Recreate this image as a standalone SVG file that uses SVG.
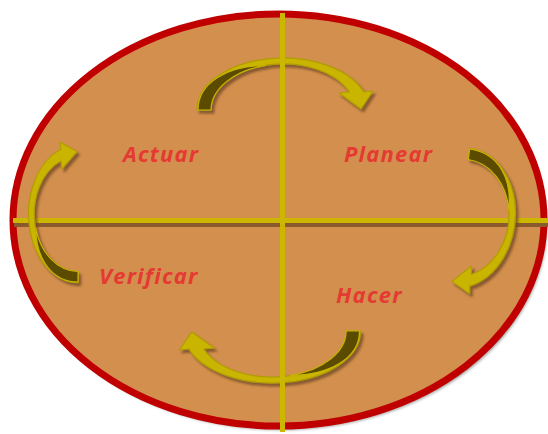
<svg xmlns="http://www.w3.org/2000/svg" xmlns:xlink="http://www.w3.org/1999/xlink" width="548" height="434" viewBox="0 0 548 434">
  <style>
    .body { fill: #C9B400; stroke: #B09C00; stroke-width: 1.2; stroke-linejoin: round; }
    .dark { fill: #5A4C00; stroke: #C9B400; stroke-width: 1.2; stroke-linejoin: round; }
    .label { font-family: "Open Sans", "DejaVu Sans", sans-serif; font-weight: bold; font-style: italic; font-size: 22px; fill: #E53A33; letter-spacing: 1.2px; }
    .axis { stroke: #CDB600; stroke-width: 5; }
    .axis-shadow { stroke: #8A5A2E; stroke-width: 4; }
  </style>
  <defs>
    <filter id="sh" x="-20%" y="-20%" width="140%" height="140%">
      <feDropShadow dx="2.5" dy="3" stdDeviation="1" flood-color="#6B4220" flood-opacity="0.7"/>
    </filter>
    <filter id="esh" x="-5%" y="-5%" width="110%" height="110%">
      <feGaussianBlur stdDeviation="1.5"/>
    </filter>
    <path id="arrowBody" d="M -86 0 A 86 52 0 0 1 80.7 -18 L 90 -19 L 78 -1 L 56 -17 L 66.3 -18 A 72 46 0 0 0 -72 0 Z"/>
    <path id="arrowDark" d="M -85 0 C -85 -28 -55 -44 -18 -44.5 A 72 46 0 0 0 -72 0 Z"/>
  </defs>

  <g id="cycle-ellipse">
    <ellipse cx="281" cy="224" rx="266" ry="206" fill="#9E9E9E" filter="url(#esh)"/>
    <ellipse cx="278.5" cy="220" rx="265.5" ry="206" fill="#D38F4D" stroke="#C00000" stroke-width="7"/>
  </g>

  <g id="axis-horizontal">
    <line class="axis-shadow" x1="14" y1="225" x2="548" y2="225"/>
    <line class="axis" x1="13" y1="220.5" x2="548" y2="220.5"/>
  </g>

  <g id="connectors">
    <g id="arrow-top" filter="url(#sh)">
      <g transform="translate(283,110)">
        <use xlink:href="#arrowBody" class="body"/>
        <use xlink:href="#arrowDark" class="dark"/>
      </g>
    </g>
    <g id="arrow-right" filter="url(#sh)">
      <g transform="translate(460,218) rotate(98) scale(0.82,1.06)">
        <use xlink:href="#arrowBody" class="body"/>
        <use xlink:href="#arrowDark" class="dark"/>
      </g>
    </g>
    <g id="arrow-bottom" filter="url(#sh)">
      <g transform="translate(272,331) rotate(180) scale(1.03,1.0)">
        <use xlink:href="#arrowBody" class="body"/>
        <use xlink:href="#arrowDark" class="dark"/>
      </g>
    </g>
    <g id="arrow-left" filter="url(#sh)">
      <g transform="translate(78,214) rotate(-90) scale(0.8,0.95)">
        <use xlink:href="#arrowBody" class="body"/>
        <use xlink:href="#arrowDark" class="dark"/>
      </g>
    </g>
  </g>

  <g id="axis-vertical">
    <line class="axis" x1="282.5" y1="13" x2="282.5" y2="432"/>
  </g>

  <g id="node-actuar"><text class="label" x="123" y="162">Actuar</text></g>
  <g id="node-planear"><text class="label" x="344" y="162">Planear</text></g>
  <g id="node-verificar"><text class="label" x="99" y="284">Verificar</text></g>
  <g id="node-hacer"><text class="label" x="336" y="303">Hacer</text></g>
</svg>
